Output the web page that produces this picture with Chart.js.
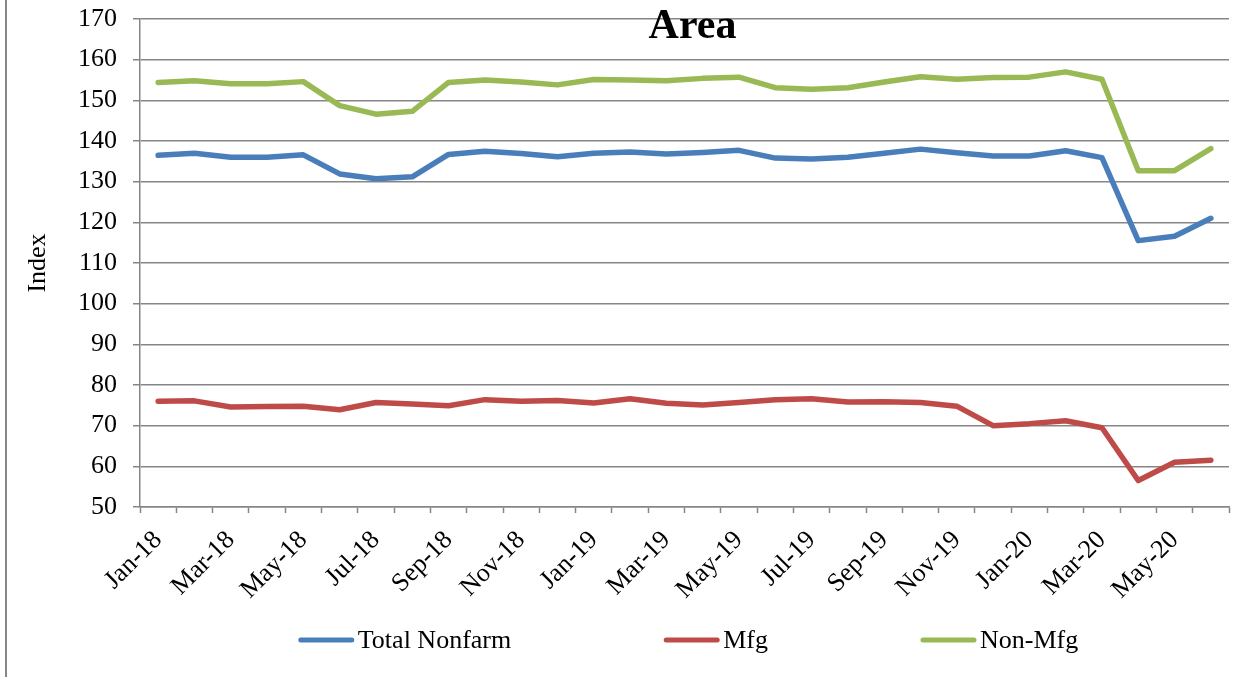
<!DOCTYPE html>
<html>
<head>
<meta charset="utf-8">
<script src="https://cdn.jsdelivr.net/npm/chart.js@4/dist/chart.umd.min.js"></script>
<style>
  html, body { margin: 0; padding: 0; background: #ffffff; }
  #wrap { position: relative; width: 1251px; height: 677px; }
</style>
</head>
<body>
<div id="wrap"><canvas id="c" width="1251" height="677"></canvas></div>
<script>
const months = ['Jan-18','Feb-18','Mar-18','Apr-18','May-18','Jun-18','Jul-18','Aug-18','Sep-18','Oct-18','Nov-18','Dec-18',
                'Jan-19','Feb-19','Mar-19','Apr-19','May-19','Jun-19','Jul-19','Aug-19','Sep-19','Oct-19','Nov-19','Dec-19',
                'Jan-20','Feb-20','Mar-20','Apr-20','May-20','Jun-20'];
const totalNonfarm = [136.5,137.0,136.0,136.0,136.6,131.9,130.7,131.2,136.7,137.5,136.9,136.1,
                      137.0,137.3,136.8,137.2,137.7,135.8,135.6,136.0,137.0,138.0,137.1,136.3,
                      136.3,137.6,135.9,115.5,116.6,121.0];
const mfg = [76.0,76.1,74.6,74.7,74.8,73.9,75.7,75.3,74.9,76.4,76.0,76.2,
             75.6,76.6,75.5,75.1,75.7,76.4,76.6,75.8,75.9,75.7,74.8,70.0,
             70.5,71.2,69.5,56.5,61.0,61.5];
const nonMfg = [154.4,154.8,154.1,154.1,154.6,148.7,146.6,147.3,154.4,155.0,154.5,153.8,
                155.1,155.0,154.8,155.4,155.7,153.1,152.7,153.1,154.5,155.8,155.2,155.6,
                155.7,157.0,155.2,132.7,132.7,138.1];
const seriesNames = ['Total Nonfarm','Mfg','Non-Mfg'];
const seriesColors = ['#4A7EBB','#BE4B48','#98B954'];
const yMin = 50, yMax = 170, yMajor = 10, yMinor = 5;
const chartTitle = 'Area';
const yTitle = 'Index';

const FONT = '"Liberation Serif", "Times New Roman", serif';
const GRID = '#868686';

const framePlugin = {
  id: 'frame',
  beforeDraw(chart) {
    const ctx = chart.ctx;
    ctx.save();
    ctx.fillStyle = '#ffffff';
    ctx.fillRect(0, 0, chart.width, chart.height);
    ctx.strokeStyle = GRID;
    ctx.lineWidth = 2;
    ctx.beginPath();
    ctx.moveTo(6, 0);
    ctx.lineTo(6, chart.height);
    ctx.stroke();
    ctx.restore();
  },
  afterDraw(chart) {
    const ctx = chart.ctx;
    const ca = chart.chartArea;
    ctx.save();
    ctx.fillStyle = '#000';
    ctx.font = 'bold 42px ' + FONT;
    ctx.textAlign = 'center';
    ctx.textBaseline = 'alphabetic';
    ctx.fillText(chartTitle, (ca.left + ca.right) / 2 + 8, 38);
    ctx.font = '26px ' + FONT;
    ctx.textBaseline = 'middle';
    ctx.textAlign = 'left';
    const lineW = 55, gapText = 4, gapItem = 153, y = 640;
    const items = chart.data.datasets.map(d => ({ text: d.label, color: d.borderColor, w: lineW + gapText + ctx.measureText(d.label).width }));
    const total = items.reduce((s, it) => s + it.w, 0) + gapItem * (items.length - 1);
    let x = (ca.left + ca.right) / 2 + 4 - total / 2;
    items.forEach(it => {
      ctx.strokeStyle = it.color;
      ctx.lineWidth = 5;
      ctx.lineCap = 'round';
      ctx.beginPath();
      ctx.moveTo(x + 2, y);
      ctx.lineTo(x + lineW - 2, y);
      ctx.stroke();
      ctx.fillStyle = '#000';
      ctx.fillText(it.text, x + lineW + gapText, y + 1);
      x += it.w + gapItem;
    });
    ctx.restore();
  }
};

const values = [totalNonfarm, mfg, nonMfg];
new Chart(document.getElementById('c'), {
  type: 'line',
  data: {
    labels: months,
    datasets: values.map((v, i) => ({
      label: seriesNames[i],
      data: v,
      borderColor: seriesColors[i],
      backgroundColor: seriesColors[i],
      borderWidth: 5.5,
      pointRadius: 0,
      pointHoverRadius: 0,
      tension: 0,
      borderJoinStyle: 'round',
      borderCapStyle: 'round',
      fill: false
    }))
  },
  options: {
    responsive: false,
    animation: false,
    devicePixelRatio: 1,
    layout: { padding: { left: 0, top: 19, right: 22, bottom: 0 } },
    plugins: {
      legend: { display: false },
      title: { display: false },
      tooltip: { enabled: false }
    },
    scales: {
      x: {
        type: 'category',
        offset: true,
        grid: { offset: true, drawOnChartArea: false, drawTicks: true, tickLength: 6, color: GRID, tickColor: GRID, tickWidth: 1.5 },
        border: { color: GRID, width: 1.5 },
        ticks: {
          autoSkip: false,
          maxRotation: 45,
          minRotation: 45,
          padding: 12,
          color: '#000',
          font: { family: FONT, size: 26 },
          callback: function(val, idx) { return idx % 2 === 0 ? this.getLabelForValue(val) : ''; }
        },
        afterFit(scale) { scale.height = 170; scale.paddingLeft = 0; scale.paddingRight = 0; }
      },
      y: {
        min: yMin,
        max: yMax,
        grid: {
          color: ctx => (ctx.tick && ctx.tick.value % yMajor === 0) ? GRID : 'rgba(0,0,0,0)',
          tickColor: GRID,
          lineWidth: 1.5,
          tickWidth: 1.5,
          tickLength: 7,
          drawTicks: true
        },
        border: { color: GRID, width: 1.5 },
        ticks: {
          stepSize: yMinor,
          padding: 16,
          color: '#000',
          font: { family: FONT, size: 26 },
          callback: v => (v % yMajor === 0 ? String(v) : '')
        },
        title: {
          display: true,
          text: yTitle,
          color: '#000',
          font: { family: FONT, size: 26 },
          padding: { top: 23, bottom: 0 }
        },
        afterFit(scale) { scale.width = 140; scale.paddingTop = 0; scale.paddingBottom = 0; }
      }
    }
  },
  plugins: [framePlugin]
});
</script>
</body>
</html>
